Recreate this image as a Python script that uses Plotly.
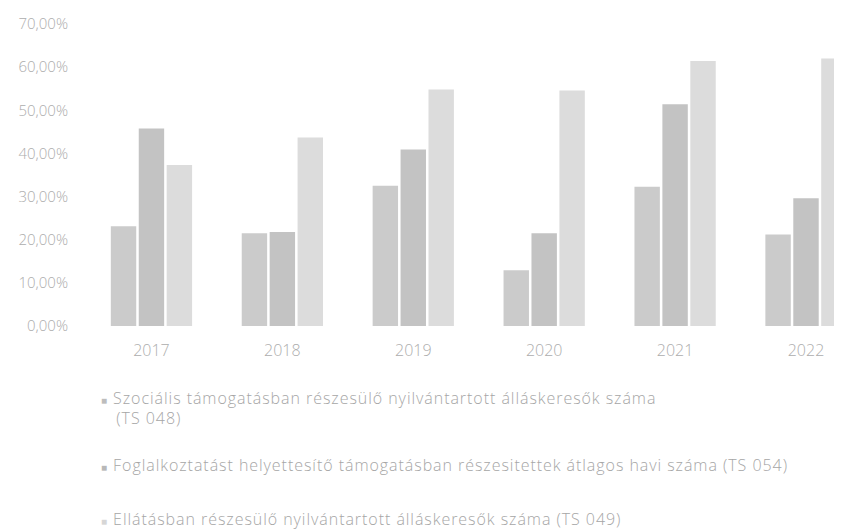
import plotly.graph_objects as go

years = ["2017", "2018", "2019", "2020", "2021", "2022"]
series_names = [
    "Szociális támogatásban részesülő nyilvántartott álláskeresők száma<br>&nbsp;&nbsp;&nbsp;(TS 048)",
    "Foglalkoztatást helyettesítő támogatásban részesitettek átlagos havi száma (TS 054)",
    "Ellátásban részesülő nyilvántartott álláskeresők száma (TS 049)",
]
ts048 = [23.1, 21.5, 32.5, 12.9, 32.3, 21.2]
ts054 = [45.8, 21.8, 40.9, 21.5, 51.4, 29.6]
ts049 = [37.3, 43.7, 54.8, 54.6, 61.4, 62.0]
y_ticks = [0, 10, 20, 30, 40, 50, 60, 70]
y_tick_labels = ["0,00%", "10,00%", "20,00%", "30,00%", "40,00%", "50,00%", "60,00%", "70,00%"]

colors = ["#cbcbcb", "#c3c3c3", "#dcdcdc"]
marker_colors = ["#bdbdbd", "#b8b8b8", "#d6d6d6"]
series = [ts048, ts054, ts049]
legend_ids = ["legend", "legend2", "legend3"]
legend_centers_px = [400, 457, 511]

FONT = "Open Sans"
TEXT = "#adadad"
LEG_TEXT = "#a6a6a6"

fig = go.Figure()
for vals, col in zip(series, colors):
    fig.add_trace(go.Bar(x=years, y=vals, marker=dict(color=col, line=dict(width=0)),
                         showlegend=False))

for name, mcol, lg in zip(series_names, marker_colors, legend_ids):
    fig.add_trace(go.Scatter(
        x=[None], y=[None], mode="markers",
        marker=dict(size=1, color="rgba(0,0,0,0)"),
        name=(f"<span style='letter-spacing:0.95px'><span style='color:{mcol};font-size:10px'>■</span>"
              f" {name}</span>"),
        legend=lg, showlegend=True,
    ))

legend_common = dict(
    xref="container", yref="container", x=53 / 842, xanchor="left", yanchor="middle",
    bgcolor="rgba(0,0,0,0)", font=dict(family=FONT, size=16, color=LEG_TEXT, weight=300),
    itemclick=False, itemdoubleclick=False,
)
legends = {lg: dict(**legend_common, y=1 - c / 532) for lg, c in zip(legend_ids, legend_centers_px)}

fig.update_layout(
    width=842, height=532,
    margin=dict(l=77.5, r=8, t=15.5, b=213.5, autoexpand=False),
    paper_bgcolor="white", plot_bgcolor="white",
    barmode="group", bargap=0.36, bargroupgap=0.09,
    font=dict(family=FONT, size=15, color=TEXT, weight=300),
    xaxis=dict(type="category", range=[-0.5, 5.275], showgrid=False, showline=False,
               zeroline=False, ticks="", ticklabelstandoff=13, tickangle=0,
               tickfont=dict(family=FONT, size=16, color=TEXT, weight=300)),
    yaxis=dict(range=[0, 70], tickvals=y_ticks, ticktext=y_tick_labels,
               showgrid=False, zeroline=False, showline=False, ticks="",
               ticklabelstandoff=17, tickfont=dict(family=FONT, size=15, color=TEXT, weight=300)),
    **legends,
)

fig.write_html("out.html")
